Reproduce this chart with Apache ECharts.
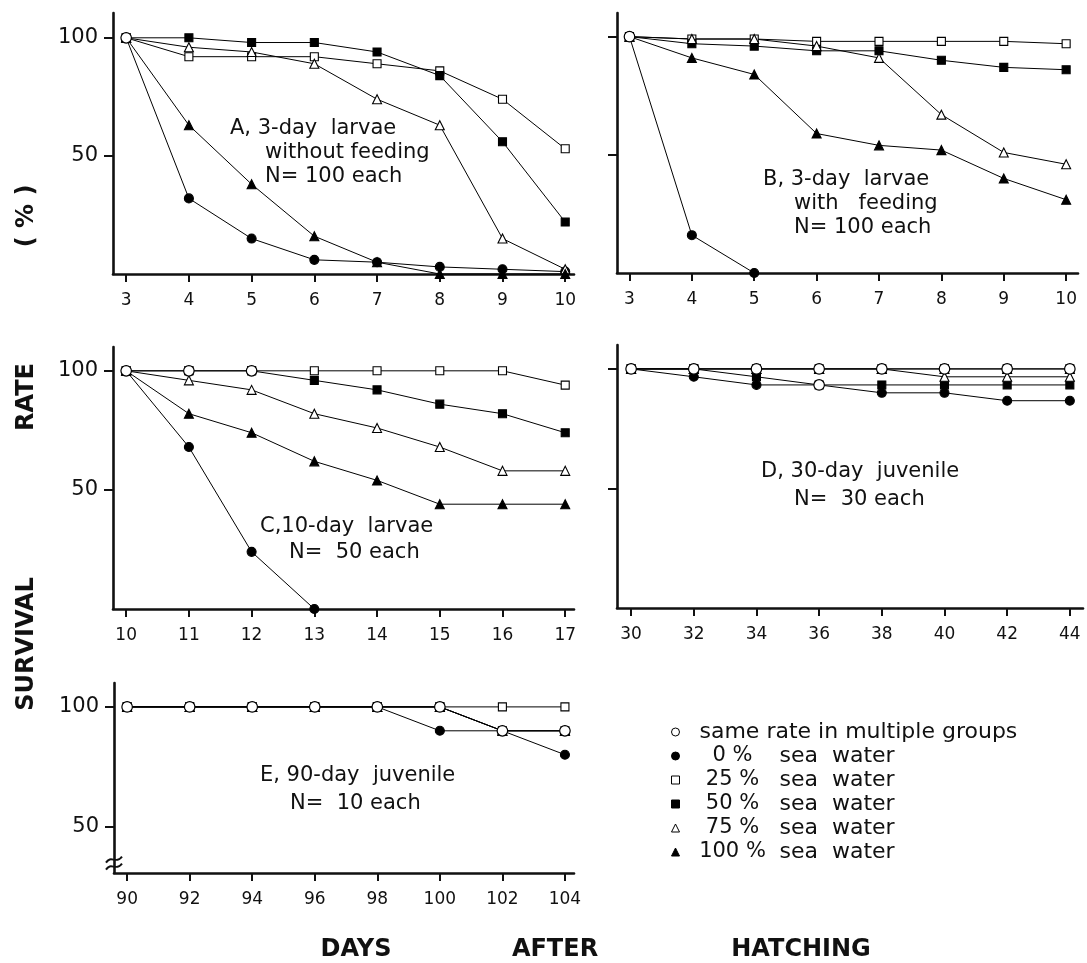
<!DOCTYPE html>
<html><head><meta charset="utf-8">
<script src="https://cdn.jsdelivr.net/npm/echarts@6/dist/echarts.min.js"></script>
<style>html,body{margin:0;padding:0;background:#fff}#c{width:1087px;height:963px}</style>
</head><body><div id="c"></div>
<script>
// ---------- data ----------
const sameName = 'same rate in multiple groups';
const groupPct = ['0', '25', '50', '75', '100'];
const groupNames = groupPct.map(p => p + ' % sea water');

// Panel A: 3-day larvae without feeding
const daysA = [3, 4, 5, 6, 7, 8, 9, 10];
const a0   = [100, 32, 15, 6, 5, 3, 2, 1];
const a25  = [100, 92, 92, 92, 89, 86, 74, 53];
const a50  = [100, 100, 98, 98, 94, 84, 56, 22];
const a75  = [100, 96, 94, 89, 74, 63, 15, 2];
const a100 = [100, 63, 38, 16, 5, 0, 0, 0];
const sameA = [[3, 100]];

// Panel B: 3-day larvae with feeding
const daysB = [3, 4, 5, 6, 7, 8, 9, 10];
const b0   = [100, 16, 0];
const b25  = [100, 99, 99, 98, 98, 98, 98, 97];
const b50  = [100, 97, 96, 94, 94, 90, 87, 86];
const b75  = [100, 99, 99, 96, 91, 67, 51, 46];
const b100 = [100, 91, 84, 59, 54, 52, 40, 31];
const sameB = [[3, 100]];

// Panel C: 10-day larvae
const daysC = [10, 11, 12, 13, 14, 15, 16, 17];
const c0   = [100, 68, 24, 0];
const c25  = [100, 100, 100, 100, 100, 100, 100, 94];
const c50  = [100, 100, 100, 96, 92, 86, 82, 74];
const c75  = [100, 96, 92, 82, 76, 68, 58, 58];
const c100 = [100, 82, 74, 62, 54, 44, 44, 44];
const sameC = [[10, 100], [11, 100], [12, 100]];

// Panel D: 30-day juvenile
const daysD = [30, 32, 34, 36, 38, 40, 42, 44];
const d0   = [100, 96.7, 93.3, 93.3, 90, 90, 86.7, 86.7];
const d25  = [100, 100, 100, 100, 100, 100, 100, 100];
const d50  = [100, 100, 96.7, 93.3, 93.3, 93.3, 93.3, 93.3];
const d75  = [100, 100, 100, 100, 100, 96.7, 96.7, 96.7];
const d100 = [100, 100, 100, 100, 100, 100, 100, 100];
const sameD = [[30, 100], [32, 100], [34, 100], [36, 100], [36, 93.3], [38, 100], [40, 100], [42, 100], [44, 100]];

// Panel E: 90-day juvenile
const daysE = [90, 92, 94, 96, 98, 100, 102, 104];
const e0   = [100, 100, 100, 100, 100, 90, 90, 80];
const e25  = [100, 100, 100, 100, 100, 100, 100, 100];
const e50  = [100, 100, 100, 100, 100, 100, 90, 90];
const e75  = [100, 100, 100, 100, 100, 100, 90, 90];
const e100 = [100, 100, 100, 100, 100, 100, 90, 90];
const sameE = [[90, 100], [92, 100], [94, 100], [96, 100], [98, 100], [100, 100], [102, 90], [104, 90]];

const yTicks = [50, 100];

const panels = [
  { days: daysA, groups: [a0, a25, a50, a75, a100], same: sameA },
  { days: daysB, groups: [b0, b25, b50, b75, b100], same: sameB },
  { days: daysC, groups: [c0, c25, c50, c75, c100], same: sameC },
  { days: daysD, groups: [d0, d25, d50, d75, d100], same: sameD },
  { days: daysE, groups: [e0, e25, e50, e75, e100], same: sameE }
];

// ---------- layout / style ----------
const layout = [
  { left: 113, top: 13,  width: 461, height: 261, xMin: 2.79,  xMax: 10.14,  yMin: 0,    yMax: 110.5, yLabels: true },
  { left: 617, top: 13,  width: 461, height: 260, xMin: 2.8,   xMax: 10.19,  yMin: 0,    yMax: 110,   yLabels: false },
  { left: 113, top: 347, width: 461, height: 262, xMin: 9.79,  xMax: 17.14,  yMin: 0,    yMax: 110,   yLabels: true },
  { left: 617, top: 345, width: 466, height: 263, xMin: 29.55, xMax: 44.42,  yMin: 0,    yMax: 110,   yLabels: false },
  { left: 114, top: 683, width: 460, height: 190, xMin: 89.58, xMax: 104.29, yMin: 30.5, yMax: 110,   yLabels: true }
];
const markStyles = [
  { symbol: 'circle',   size: 9, fill: '#000' },
  { symbol: 'rect',     size: 8, fill: '#fff' },
  { symbol: 'rect',     size: 8, fill: '#000' },
  { symbol: 'triangle', size: 9, fill: '#fff' },
  { symbol: 'triangle', size: 9, fill: '#000' }
];
const FONT = '"DejaVu Sans", "Liberation Sans", sans-serif';
const INK = '#111';

const grids = [], xAxes = [], yAxes = [], series = [];
layout.forEach((L, p) => {
  grids.push({ left: L.left, top: L.top, width: L.width, height: L.height, containLabel: false });
  xAxes.push({
    type: 'value', gridIndex: p, min: L.xMin, max: L.xMax,
    axisLine: { onZero: false, lineStyle: { color: INK, width: 2.6 } },
    axisTick: { show: true, inside: false, length: 8, lineStyle: { color: INK, width: 2 }, customValues: panels[p].days },
    axisLabel: { show: true, margin: 18, color: INK, fontFamily: FONT, fontSize: 17, customValues: panels[p].days },
    splitLine: { show: false }
  });
  yAxes.push({
    type: 'value', gridIndex: p, min: L.yMin, max: L.yMax,
    axisLine: { show: true, onZero: false, lineStyle: { color: INK, width: 2.6 } },
    axisTick: { show: true, inside: false, length: 9, lineStyle: { color: INK, width: 2 }, customValues: yTicks },
    axisLabel: { show: L.yLabels, margin: 15, color: INK, fontFamily: FONT, fontSize: 21, customValues: yTicks },
    splitLine: { show: false }
  });
  const P = panels[p];
  P.groups.forEach((vals, g) => {
    const pts = vals.map((v, i) => [P.days[i], v]);
    series.push({
      type: 'line', name: groupNames[g], xAxisIndex: p, yAxisIndex: p, data: pts,
      showSymbol: false, symbol: 'none', silent: true, animation: false, z: 2,
      lineStyle: { color: '#000', width: 1 }, itemStyle: { color: markStyles[g].fill }
    });
    series.push({
      type: 'scatter', name: groupNames[g], xAxisIndex: p, yAxisIndex: p, data: pts,
      symbol: markStyles[g].symbol, symbolSize: markStyles[g].size, silent: true, animation: false, z: 3,
      itemStyle: { color: markStyles[g].fill, borderColor: '#000', borderWidth: 1.1, opacity: 1 }
    });
  });
  series.push({
    type: 'scatter', name: sameName, xAxisIndex: p, yAxisIndex: p, data: P.same,
    symbol: 'circle', symbolSize: 10.5, silent: true, animation: false, z: 4,
    itemStyle: { color: '#fff', borderColor: '#000', borderWidth: 1.2, opacity: 1 }
  });
});

const legendData = [{ name: sameName, icon: 'circle', itemStyle: { color: '#fff', borderColor: '#000', borderWidth: 1 } }]
  .concat(groupNames.map((n, g) => ({
    name: n, icon: markStyles[g].symbol,
    itemStyle: { color: markStyles[g].fill, borderColor: '#000', borderWidth: 1 }
  })));

const panelTexts = [
  { t: 'A, 3-day  larvae',     x: 230, y: 129 },
  { t: 'without feeding',      x: 265, y: 153 },
  { t: 'N= 100 each',          x: 265, y: 177 },
  { t: 'B, 3-day  larvae',     x: 763, y: 180 },
  { t: 'with   feeding',       x: 794, y: 204 },
  { t: 'N= 100 each',          x: 794, y: 228 },
  { t: 'C,10-day  larvae',     x: 260, y: 527 },
  { t: 'N=  50 each',          x: 289, y: 553 },
  { t: 'D, 30-day  juvenile',  x: 761, y: 472 },
  { t: 'N=  30 each',          x: 794, y: 500 },
  { t: 'E, 90-day  juvenile',  x: 260, y: 776 },
  { t: 'N=  10 each',          x: 290, y: 804 }
];
const yTitle = [
  { t: '( % )',    y: 216 },
  { t: 'RATE',     y: 397 },
  { t: 'SURVIVAL', y: 644 }
];
const xTitle = [
  { t: 'DAYS',     x: 356 },
  { t: 'AFTER',    x: 555 },
  { t: 'HATCHING', x: 801 }
];

const graphics = [];
panelTexts.forEach(o => graphics.push({
  type: 'text', x: o.x, y: o.y, silent: true,
  style: { text: o.t, fill: INK, fontFamily: FONT, fontSize: 21, align: 'left', verticalAlign: 'middle' }
}));
yTitle.forEach(o => graphics.push({
  type: 'text', x: 27, y: o.y, rotation: Math.PI / 2, silent: true,
  style: { text: o.t, fill: INK, fontFamily: FONT, fontSize: 24, fontWeight: 'bold', align: 'center', verticalAlign: 'middle' }
}));
xTitle.forEach(o => graphics.push({
  type: 'text', x: o.x, y: 950, silent: true,
  style: { text: o.t, fill: INK, fontFamily: FONT, fontSize: 24, fontWeight: 'bold', align: 'center', verticalAlign: 'middle' }
}));

const chart = echarts.init(document.getElementById('c'), null, { renderer: 'canvas' });
const richBase = { color: INK, fontFamily: FONT, fontSize: 22, lineHeight: 24 };
chart.setOption({
  backgroundColor: '#fff',
  animation: false,
  grid: grids, xAxis: xAxes, yAxis: yAxes, series: series,
  legend: {
    orient: 'vertical', left: 671, top: 720, padding: 0, itemGap: 0,
    itemWidth: 8, itemHeight: 8, symbolKeepAspect: true, selectedMode: false,
    data: legendData,
    textStyle: Object.assign({}, richBase, {
      rich: {
        s: Object.assign({}, richBase, { width: 15 }),
        w: Object.assign({}, richBase),
        n: Object.assign({}, richBase, { fontSize: 21, width: 66, align: 'right' }),
        t: Object.assign({}, richBase)
      }
    }),
    formatter: function (name) {
      if (name === sameName) return '{s|}{w|' + name + '}';
      const pct = name.split(' ')[0];
      return '{s|}{n|' + pct + ' %}{t|  sea  water}';
    }
  },
  graphic: graphics
});

// axis-break mark on panel E's y axis, placed through the chart's own scale
const bp = chart.convertToPixel({ gridIndex: 4 }, [layout[4].xMin, 34]);
const bx = bp[0], by = bp[1];
function tilde(dy) {
  return {
    type: 'bezierCurve', silent: true,
    shape: { x1: bx - 8, y1: by + dy + 2, cpx1: bx - 3, cpy1: by + dy - 6, cpx2: bx + 2, cpy2: by + dy + 4, x2: bx + 8, y2: by + dy - 4 },
    style: { stroke: INK, lineWidth: 2, fill: null }
  };
}
chart.setOption({ graphic: graphics.concat([tilde(-4), tilde(3)]) });
</script>
</body></html>
